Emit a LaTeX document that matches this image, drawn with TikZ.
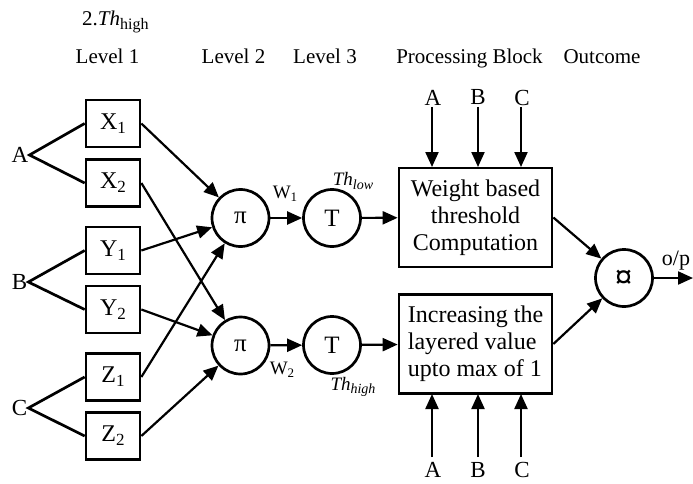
\documentclass[tikz,border=0pt]{standalone}
\usepackage{fontspec}
\setmainfont{Liberation Serif}
\usetikzlibrary{arrows.meta}
% lowered small text for indices
\newcommand{\lowsub}[2][15]{\raisebox{-0.35ex}{\fontsize{#1}{#1}\selectfont #2}}

\begin{document}
\begin{tikzpicture}[x=1pt,y=-1pt,
  lvlbox/.style={draw, line width=2.7pt, minimum width=54pt, minimum height=47pt,
                 inner sep=0pt, font=\fontsize{24}{24}\selectfont},
  gate/.style={draw, circle, line width=2.7pt, minimum size=57pt, inner sep=0pt,
               font=\fontsize{25}{25}\selectfont},
  proc/.style={draw, line width=2.7pt, minimum width=153pt, minimum height=99pt,
               inner sep=2pt, font=\fontsize{24}{27}\selectfont},
  head/.style={font=\fontsize{21}{24}\selectfont, anchor=base},
  inlabel/.style={font=\fontsize{23}{23}\selectfont, inner sep=1pt},
  small/.style={font=\fontsize{19}{19}\selectfont, inner sep=0pt},
  link/.style={line width=2.2pt, -{Triangle[length=15pt,width=13pt]}},
  fork/.style={line width=2.7pt}]

\useasboundingbox (0,0) rectangle (693,484);

% column headings
\node[head, anchor=base west, inner sep=0pt] (title) at (82,26) {2.\textit{Th}\lowsub[16]{high}};
\node[head] (h1) at (107.5,64) {Level 1};
\node[head] (h2) at (233.5,64) {Level 2};
\node[head] (h3) at (325,64) {Level 3};
\node[head] (h4) at (469.5,64) {Processing Block};
\node[head] (h5) at (602,64) {Outcome};

% inputs
\node[inlabel] (A) at (20,155) {A};
\node[inlabel] (B) at (19.5,282) {B};
\node[inlabel] (C) at (19.5,408) {C};

% level 1
\node[lvlbox] (X1) at (113,123.5) {X\lowsub[17]{1}};
\node[lvlbox] (X2) at (113,183) {X\lowsub[17]{2}};
\node[lvlbox] (Y1) at (113,250.5) {Y\lowsub[17]{1}};
\node[lvlbox] (Y2) at (113,309.5) {Y\lowsub[17]{2}};
\node[lvlbox] (Z1) at (113,377) {Z\lowsub[17]{1}};
\node[lvlbox] (Z2) at (113,436) {Z\lowsub[17]{2}};

\draw[fork] (X1.west) -- (A.east) -- (X2.west);
\draw[fork] (Y1.west) -- (B.east) -- (Y2.west);
\draw[fork] (Z1.west) -- (C.east) -- (Z2.west);

% level 2 and level 3
\node[gate] (P1) at (240.5,218) {π};
\node[gate] (P2) at (240.5,345.5) {π};
\node[gate] (T1) at (332,218) {T};
\node[gate] (T2) at (332,345) {T};

\draw[link] (X1.east) -- (P1);
\draw[link] (Y1.east) -- (P1);
\draw[link] (Z1.east) -- (P1);
\draw[link] (X2.east) -- (P2);
\draw[link] (Y2.east) -- (P2);
\draw[link] (Z2.east) -- (P2);

\draw[link] (P1) -- (T1);
\draw[link] (P2) -- (T2);

\node[small] (w1) at (285,194) {W\lowsub[13]{1}};
\node[small] (w2) at (282,370) {W\lowsub[13]{2}};
\node[small] (thl) at (353,181) {\textit{Th}\lowsub[14]{\textit{low}}};
\node[small] (thh) at (353,387) {\textit{Th}\lowsub[14]{\textit{high}}};

% processing blocks
\node[proc, align=center] (W) at (475.5,217.5) {Weight based\\threshold\\Computation};
\node[proc, align=left] (I) at (475.5,344) {Increasing the\\layered value\\upto max of 1};

\draw[link] (T1) -- (W);
\draw[link] (T2) -- (I);

% external inputs of the blocks
\node[inlabel] (tA) at (433,97.5) {A};
\node[inlabel] (tB) at (478,97.5) {B};
\node[inlabel] (tC) at (522,97.5) {C};
\node[inlabel] (bA) at (433,470) {A};
\node[inlabel] (bB) at (478,470) {B};
\node[inlabel] (bC) at (522,470) {C};

\foreach \x in {432,478,521}
  \draw[link] (\x,107) -- (\x,167);
\foreach \x in {432,478,521}
  \draw[link] (\x,457) -- (\x,394);

% outcome
\node[gate] (O) at (624,278) {};
\node[font=\fontsize{34}{34}\selectfont\bfseries, inner sep=0pt] (sym) at (623.5,279.5) {¤};
\draw[link] (W.east) -- (O);
\draw[link] (I.east) -- (O);
\coordinate (end) at (693,278);
\draw[link] (O) -- (end);
\node[inlabel, font=\fontsize{22}{22}\selectfont] (op) at (676,261) {o/p};
\end{tikzpicture}
\end{document}
